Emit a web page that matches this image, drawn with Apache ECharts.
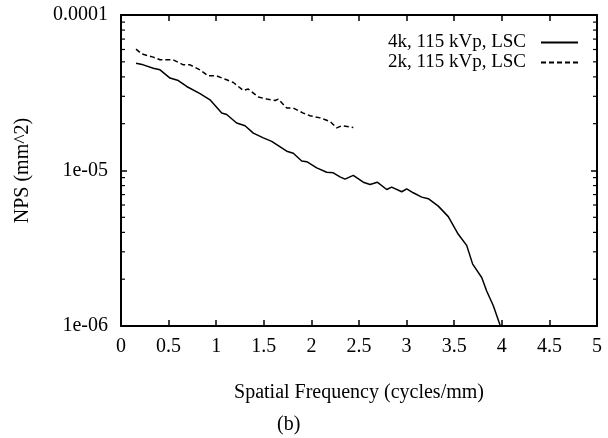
<!DOCTYPE html>
<html>
<head>
<meta charset="utf-8">
<script src="https://cdn.jsdelivr.net/npm/echarts@6/dist/echarts.min.js"></script>
<style>html,body{margin:0;padding:0;background:#fff;}#c{width:608px;height:438px;}</style>
</head>
<body>
<div id="c"></div>
<script>
// 4k, 115 kVp, LSC (solid)
const solidX = [0.158,0.234,0.339,0.410,0.515,0.602,0.690,0.830,0.935,1.058,1.110,1.215,1.303,1.390,1.495,1.583,1.741,1.810,1.898,1.951,2.056,2.161,2.230,2.300,2.353,2.440,2.545,2.616,2.692,2.791,2.843,2.949,3.001,3.070,3.159,3.228,3.333,3.438,3.543,3.631,3.694,3.789,3.841,3.911,3.985];
const solidY = [4.90e-5,4.78e-5,4.55e-5,4.44e-5,3.93e-5,3.79e-5,3.47e-5,3.12e-5,2.85e-5,2.34e-5,2.29e-5,2.02e-5,1.94e-5,1.74e-5,1.62e-5,1.54e-5,1.33e-5,1.29e-5,1.15e-5,1.14e-5,1.04e-5,9.75e-6,9.67e-6,9.10e-6,8.80e-6,9.30e-6,8.41e-6,8.13e-6,8.41e-6,7.55e-6,7.82e-6,7.30e-6,7.63e-6,7.19e-6,6.74e-6,6.59e-6,5.90e-6,5.05e-6,3.89e-6,3.30e-6,2.50e-6,2.05e-6,1.68e-6,1.35e-6,1.00e-6];
// 2k, 115 kVp, LSC (dashed)
const dashX = [0.158,0.217,0.339,0.410,0.480,0.549,0.654,0.725,0.830,0.917,1.005,1.110,1.180,1.285,1.337,1.442,1.530,1.618,1.652,1.741,1.810,1.915,1.985,2.090,2.195,2.266,2.318,2.440];
const dashY = [6.03e-5,5.62e-5,5.36e-5,5.15e-5,5.15e-5,5.15e-5,4.78e-5,4.78e-5,4.44e-5,4.06e-5,4.06e-5,3.83e-5,3.68e-5,3.27e-5,3.34e-5,2.97e-5,2.88e-5,2.82e-5,2.88e-5,2.52e-5,2.52e-5,2.34e-5,2.25e-5,2.18e-5,2.07e-5,1.88e-5,1.94e-5,1.89e-5];
const seriesNames = ['4k, 115 kVp, LSC', '2k, 115 kVp, LSC'];
const yTickLabels = {'1e-6':'1e-06','1e-5':'1e-05','0.0001':'0.0001'};
const minorTickValues = [2e-6,3e-6,4e-6,5e-6,6e-6,7e-6,8e-6,9e-6,2e-5,3e-5,4e-5,5e-5,6e-5,7e-5,8e-5,9e-5];

const FONT = 'Liberation Serif';
const chart = echarts.init(document.getElementById('c'), null, {renderer:'canvas'});
const zip = (xs, ys) => xs.map((x, i) => [x, ys[i]]);
const minorData = [];
minorTickValues.forEach(v => { minorData.push([0, v, 1]); minorData.push([5, v, -1]); });

const xBase = {
  type:'value', min:0, max:5, interval:0.5,
  axisLine:{show:true, onZero:false, lineStyle:{color:'#000', width:2}},
  axisTick:{show:true, inside:true, length:6, lineStyle:{color:'#000', width:1.5}},
  splitLine:{show:false}
};
const yBase = {
  type:'log', logBase:10, min:1e-6, max:1e-4,
  axisLine:{show:true, onZero:false, lineStyle:{color:'#000', width:2}},
  axisTick:{show:true, inside:true, length:6, lineStyle:{color:'#000', width:1.5}},
  splitLine:{show:false}
};

chart.setOption({
  backgroundColor:'#fff',
  animation:false,
  grid:{left:121, right:11, top:15, bottom:112, containLabel:false},
  title:{text:'(b)', left:272, top:410, textStyle:{fontFamily:FONT, fontSize:20, fontWeight:'normal', color:'#000'}},
  legend:{
    orient:'vertical', right:24, top:28, align:'right',
    itemWidth:37, itemHeight:12, itemGap:1,
    itemStyle:{opacity:0, color:'transparent', borderWidth:0},
    textStyle:{fontFamily:FONT, fontSize:19, color:'#000', padding:[0,10,0,0]},
    data:seriesNames
  },
  xAxis:[
    Object.assign({}, xBase, {position:'bottom',
      name:'Spatial Frequency (cycles/mm)', nameLocation:'middle', nameGap:57,
      nameTextStyle:{fontFamily:FONT, fontSize:20, color:'#000'},
      axisLabel:{fontFamily:FONT, fontSize:20, color:'#000', margin:11}}),
    Object.assign({}, xBase, {position:'top', axisLabel:{show:false}})
  ],
  yAxis:[
    Object.assign({}, yBase, {position:'left',
      name:'NPS (mm^2)', nameLocation:'middle', nameGap:88, nameRotate:90,
      nameTextStyle:{fontFamily:FONT, fontSize:20, color:'#000'},
      axisLabel:{fontFamily:FONT, fontSize:20, color:'#000', margin:13,
        formatter:v => yTickLabels[String(v)] || (v < 1e-5 ? '1e-06' : (v < 1e-4 ? '1e-05' : '0.0001'))}}),
    Object.assign({}, yBase, {position:'right', axisLabel:{show:false}})
  ],
  series:[
    {name:seriesNames[0], type:'line', data:zip(solidX, solidY), showSymbol:false, symbol:'none',
     lineStyle:{color:'#000', width:1.5}, itemStyle:{color:'#000'}},
    {name:seriesNames[1], type:'line', data:zip(dashX, dashY), showSymbol:false, symbol:'none',
     lineStyle:{color:'#000', width:1.5, type:[5,3]}, itemStyle:{color:'#000'}},
    {type:'custom', silent:true, clip:false, data:minorData,
     encode:{x:0, y:1},
     renderItem:(params, api) => {
       const p = api.coord([api.value(0), api.value(1)]);
       const d = api.value(2);
       return {type:'line', shape:{x1:p[0], y1:p[1], x2:p[0] + d*4, y2:p[1]},
               style:{stroke:'#000', lineWidth:1.2}};
     }}
  ]
});
</script>
</body>
</html>
